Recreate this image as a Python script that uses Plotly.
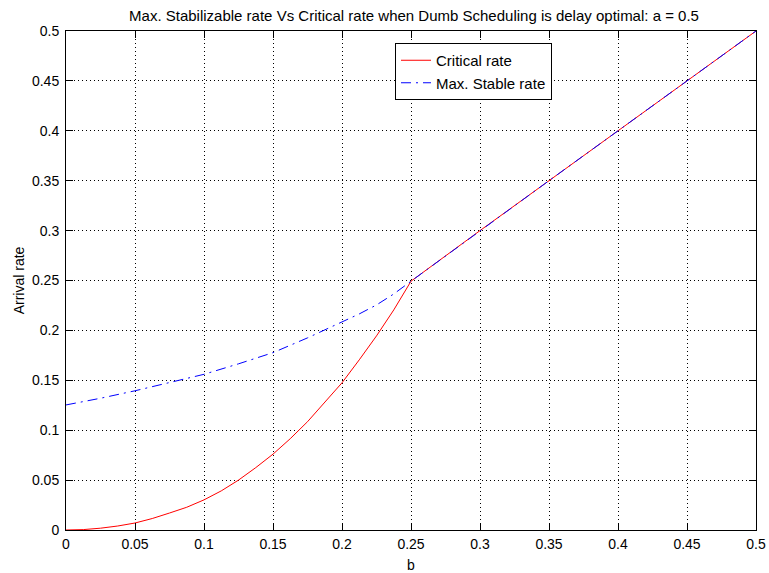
import plotly.graph_objects as go

# Data
crit_b = [0, 0.0125, 0.025, 0.0375, 0.05, 0.0625, 0.075, 0.0875, 0.1, 0.1125, 0.125, 0.1375, 0.15,
          0.1625, 0.175, 0.1875, 0.2, 0.2125, 0.225, 0.2375, 0.25,
          0.3, 0.35, 0.4, 0.45, 0.5]
crit_rate = [0, 0.0004, 0.0018, 0.004, 0.007, 0.0115, 0.017, 0.0228, 0.0302, 0.0392, 0.050, 0.0625, 0.076,
             0.0915, 0.1085, 0.1275, 0.1475, 0.1705, 0.1945, 0.2205, 0.2493,
             0.3, 0.35, 0.4, 0.45, 0.5]

stable_b = [0, 0.025, 0.05, 0.075, 0.1, 0.125, 0.15, 0.175, 0.2, 0.2125, 0.225, 0.2375, 0.25,
            0.3, 0.35, 0.4, 0.45, 0.5]
stable_rate = [0.1253, 0.132, 0.1395, 0.1475, 0.156, 0.1665, 0.1777, 0.1925, 0.208, 0.2165, 0.2255, 0.2365, 0.2493,
               0.3, 0.35, 0.4, 0.45, 0.5]

x_ticks = [0, 0.05, 0.1, 0.15, 0.2, 0.25, 0.3, 0.35, 0.4, 0.45, 0.5]
x_tick_labels = ["0", "0.05", "0.1", "0.15", "0.2", "0.25", "0.3", "0.35", "0.4", "0.45", "0.5"]
y_ticks = x_ticks
y_tick_labels = x_tick_labels

FONT = "Liberation Sans, Arial, Helvetica, sans-serif"

fig = go.Figure()
fig.add_trace(go.Scatter(
    x=crit_b, y=crit_rate, mode="lines", name="Critical rate",
    line=dict(color="#ff0000", width=1),
))
fig.add_trace(go.Scatter(
    x=stable_b, y=stable_rate, mode="lines", name="Max. Stable rate",
    line=dict(color="#0000ff", width=1, dash="10px,5px,2px,5px"),
))

axis_common = dict(
    showline=True, linecolor="black", linewidth=1, mirror="ticks",
    ticks="inside", ticklen=7, tickcolor="black", tickwidth=1,
    showgrid=True, gridcolor="#000000", gridwidth=1, griddash="1px,3px",
    zeroline=False,
    tickfont=dict(family=FONT, size=14, color="black"),
)

fig.update_layout(
    width=769, height=573,
    margin=dict(l=66, r=13, t=31, b=43, autoexpand=False),
    paper_bgcolor="white", plot_bgcolor="white",
    font=dict(family=FONT, size=14, color="black"),
    title=dict(
        text="Max. Stabilizable rate Vs Critical rate when Dumb Scheduling is delay optimal: a = 0.5",
        x=(121 + 707) / 2 / 769, xanchor="center", y=1 - 16 / 573, yanchor="middle",
        font=dict(family=FONT, size=15, color="black"),
    ),
    xaxis=dict(
        range=[0, 0.5], tickvals=x_ticks, ticktext=x_tick_labels,
        title=dict(text="b", standoff=15, font=dict(family=FONT, size=14)),
        ticklabelstandoff=1,
        **axis_common,
    ),
    yaxis=dict(
        range=[0, 0.5], tickvals=y_ticks, ticktext=y_tick_labels,
        title=dict(text="Arrival rate", standoff=4, font=dict(family=FONT, size=14)),
        ticklabelstandoff=3,
        **axis_common,
    ),
    legend=dict(
        x=(395 - 66) / 690, y=(530 - 43) / 499, xanchor="left", yanchor="top",
        bgcolor="white", bordercolor="black", borderwidth=1,
        font=dict(family=FONT, size=15, color="black"),
        tracegroupgap=0, itemwidth=30,
    ),
    showlegend=True,
)

fig.write_html("out.html")
